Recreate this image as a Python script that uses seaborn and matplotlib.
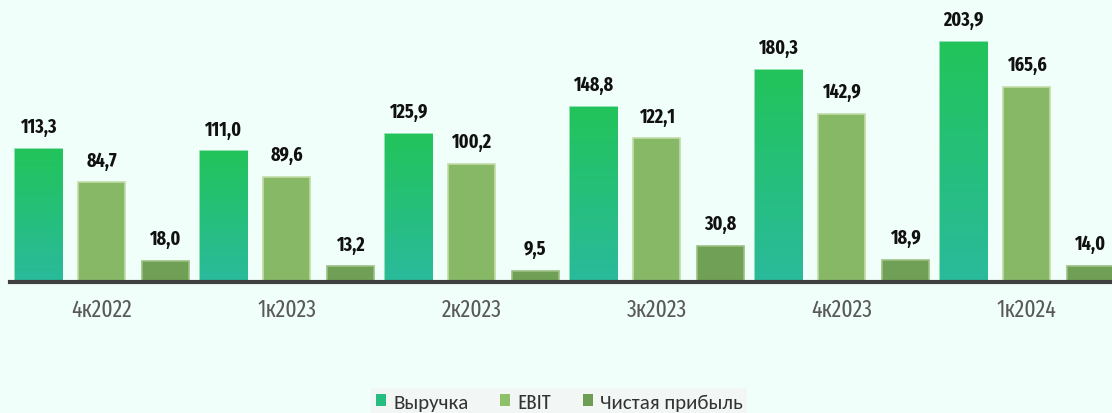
import matplotlib
matplotlib.use("Agg")
import matplotlib.pyplot as plt
import numpy as np
import pandas as pd
import seaborn as sns
from matplotlib.patches import Patch
from matplotlib.colors import LinearSegmentedColormap

categories = ["4к2022", "1к2023", "2к2023", "3к2023", "4к2023", "1к2024"]
revenue = [113.3, 111.0, 125.9, 148.8, 180.3, 203.9]
ebit = [84.7, 89.6, 100.2, 122.1, 142.9, 165.6]
net_profit = [18.0, 13.2, 9.5, 30.8, 18.9, 14.0]
series_names = ["Выручка", "EBIT", "Чистая прибыль"]

df = pd.DataFrame({
    "cat": categories * 3,
    "series": [series_names[0]] * 6 + [series_names[1]] * 6 + [series_names[2]] * 6,
    "value": revenue + ebit + net_profit,
})

sns.set_theme(style="white")
plt.rcParams["font.family"] = ["Carlito", "DejaVu Sans"]
cond = ["Fira Sans Extra Condensed", "Sofia Sans Extra Condensed", "DejaVu Sans"]

bg = "#F1FFFA"
fig = plt.figure(figsize=(11.12, 4.14), dpi=100, facecolor=bg)
ax = fig.add_axes([0.009, 0.3164, 0.991, 0.6836])
ax.set_facecolor(bg)

palette = {"Выручка": "#22C25E", "EBIT": "#87B866", "Чистая прибыль": "#70A055"}
sns.barplot(data=df, x="cat", y="value", hue="series", order=categories,
            hue_order=series_names, palette=palette, width=1.03, gap=0.26,
            saturation=1, legend=False, ax=ax, errorbar=None)

edge_cols = {"Выручка": "#7FDBA5", "EBIT": "#C2DDA8", "Чистая прибыль": "#9CC083"}
cmap = LinearSegmentedColormap.from_list("g", ["#2ABA9C", "#22C45A"])
grad = np.linspace(0, 1, 256).reshape(-1, 1)
for cont, name in zip(ax.containers, series_names):
    for p in cont.patches:
        p.set_edgecolor(edge_cols[name])
        p.set_linewidth(1.2)
        if name == "Выручка":
            x0, y0 = p.get_x(), p.get_y()
            w, h = p.get_width(), p.get_height()
            im = ax.imshow(grad, cmap=cmap, origin="lower", aspect="auto",
                           extent=[x0, x0 + w, y0, y0 + h], zorder=p.get_zorder() + 0.1)
            im.set_clip_path(p)
    ax.bar_label(cont, labels=[f"{v:.1f}".replace(".", ",") for v in cont.datavalues],
                 padding=9, fontsize=14, fontweight="bold", color="#111111",
                 family=cond)
ax.set_xlim(-0.495, 5.462)
ax.set_ylim(0, 240.4)

for s in ["top", "right", "left"]:
    ax.spines[s].set_visible(False)
ax.spines["bottom"].set_color("#404040")
ax.spines["bottom"].set_linewidth(3)
ax.set_xlabel("")
ax.set_ylabel("")
ax.set_yticks([])
ax.tick_params(axis="x", length=0, pad=11, labelsize=17, labelcolor="#595959")
for t in ax.get_xticklabels():
    t.set_family(cond)
    t.set_fontweight("normal")

handles = [Patch(facecolor="#25BE80", edgecolor="none"),
           Patch(facecolor="#8DC26A", edgecolor="none"),
           Patch(facecolor="#6E9E55", edgecolor="none")]
leg = fig.legend(handles, series_names, loc="center", bbox_to_anchor=(0.503, 0.027),
                 ncol=3, frameon=True, fontsize=15, handlelength=0.5, handleheight=0.5,
                 handletextpad=0.35, columnspacing=1.5, borderpad=0.2, fancybox=False)
leg.get_frame().set_facecolor("#F3F6F4")
leg.get_frame().set_edgecolor("none")
for t in leg.get_texts():
    t.set_color("#333333")
leg.get_texts()[1].set_family(cond)
leg.get_texts()[1].set_fontweight("normal")

fig.savefig("out.png", dpi=100, facecolor=bg)
